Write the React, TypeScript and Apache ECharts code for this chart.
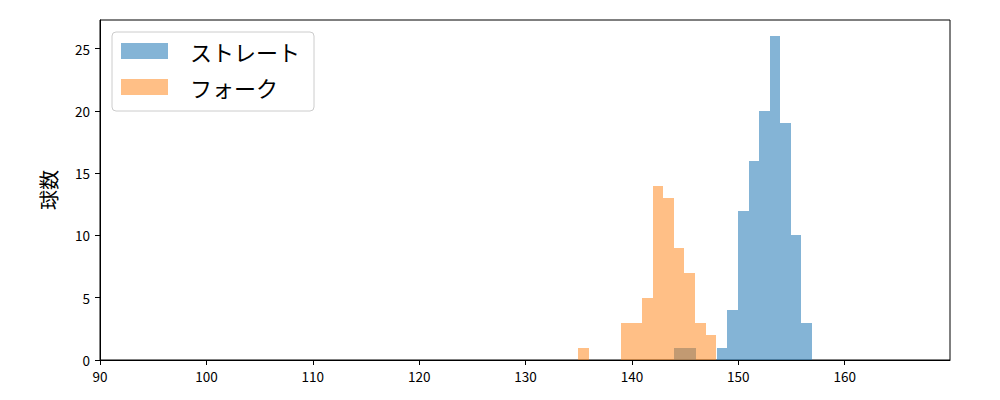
import React, { useEffect, useRef } from "react";
import * as echarts from "echarts";

const seriesNames = ["ストレート", "フォーク"];
const seriesColors = ["rgba(31,119,180,0.55)", "rgba(255,127,14,0.5)"];
// histogram bins (start, width) and counts
const straightBinStart = 144.0;
const straightBinWidth = 0.995;
const straightCounts = [1, 1, 0, 0, 1, 4, 12, 16, 20, 26, 19, 10, 3];
const forkBinStart = 134.97;
const forkBinWidth = 0.996;
const forkCounts = [1, 0, 0, 0, 3, 3, 5, 14, 13, 9, 7, 3, 2];
const xMin = 90;
const xMax = 169.9;
const yMax = 27.3;
const yLabel = "球数";

const FONT = "'Noto Sans CJK JP', 'DejaVu Sans', sans-serif";

function toBins(start: number, width: number, counts: number[]) {
  return counts.map((c, i) => [start + i * width, start + (i + 1) * width, c]);
}

export default function App() {
  const ref = useRef<HTMLDivElement>(null);
  useEffect(() => {
    if (!ref.current) return;
    const chart = echarts.init(ref.current, undefined, { renderer: "svg" });
    const makeSeries = (name: string, color: string, data: number[][]) => ({
      type: "custom",
      name,
      itemStyle: { color },
      encode: { x: [0, 1], y: 2 },
      data,
      renderItem: (params: any, api: any) => {
        const x0 = api.value(0);
        const x1 = api.value(1);
        const y = api.value(2);
        if (!y) return null;
        const p0 = api.coord([x0, y]);
        const p1 = api.coord([x1, 0]);
        const left = Math.round(p0[0]);
        const right = Math.round(p1[0]);
        const top = Math.round(p0[1]);
        const bottom = Math.round(p1[1]);
        return {
          type: "rect",
          shape: { x: left, y: top, width: right - left, height: bottom - top },
          style: { fill: color },
        };
      },
    });
    chart.setOption({
      animation: false,
      backgroundColor: "#fff",
      grid: {
        left: 100,
        right: 50,
        top: 20,
        bottom: 40,
        show: true,
        borderColor: "#000",
        borderWidth: 1,
        backgroundColor: "transparent",
      },
      legend: {
        orient: "vertical",
        left: 112,
        top: 32,
        data: seriesNames.map((n) => ({ name: n, icon: "rect" })),
        itemWidth: 47,
        itemHeight: 16,
        itemGap: 14,
        padding: [8, 14, 13, 9],
        backgroundColor: "#fff",
        borderColor: "#cccccc",
        borderWidth: 1,
        borderRadius: 4,
        textStyle: {
          fontFamily: FONT,
          fontSize: 22,
          color: "#000",
          lineHeight: 22,
          padding: [0, 0, 0, 17],
        },
      },
      xAxis: {
        type: "value",
        min: xMin,
        max: xMax,
        interval: 10,
        axisLine: { show: true, onZero: false, lineStyle: { color: "#000", width: 1 } },
        axisTick: { show: true, length: 5, lineStyle: { color: "#000" } },
        axisLabel: { fontFamily: FONT, fontSize: 13.5, color: "#000", margin: 9, showMaxLabel: false },
        splitLine: { show: false },
      },
      yAxis: {
        type: "value",
        min: 0,
        max: yMax,
        interval: 5,
        name: yLabel,
        nameLocation: "middle",
        nameGap: 42,
        nameTextStyle: { fontFamily: FONT, fontSize: 20, color: "#000" },
        axisLine: { show: true, lineStyle: { color: "#000", width: 1 } },
        axisTick: { show: true, length: 5, lineStyle: { color: "#000" } },
        axisLabel: { fontFamily: FONT, fontSize: 13.5, color: "#000", margin: 10, showMaxLabel: false },
        splitLine: { show: false },
      },
      series: [
        makeSeries(seriesNames[0], seriesColors[0], toBins(straightBinStart, straightBinWidth, straightCounts)),
        makeSeries(seriesNames[1], seriesColors[1], toBins(forkBinStart, forkBinWidth, forkCounts)),
      ],
    });
    return () => chart.dispose();
  }, []);
  return (
    <div
      ref={ref}
      style={{ position: "absolute", left: 0, top: 0, width: 1000, height: 400 }}
    />
  );
}
